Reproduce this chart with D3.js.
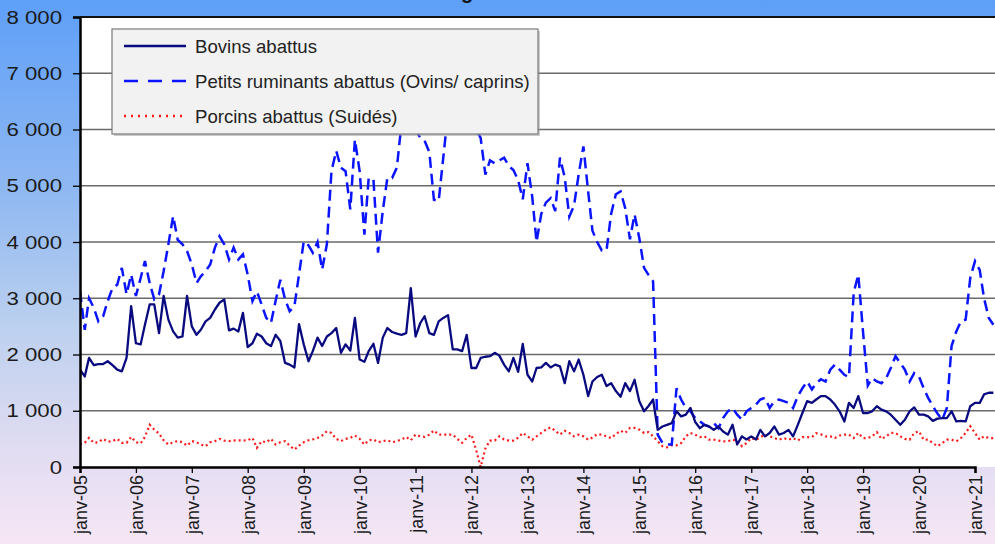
<!DOCTYPE html>
<html><head><meta charset="utf-8">
<script src="https://cdn.jsdelivr.net/npm/d3@7"></script>
<style>body{margin:0;background:#fff}svg{display:block}</style>
</head><body>
<svg id="c" width="995" height="544"></svg>
<script>
// ---- DATA (monthly, janv-05 .. mai-21) ----
const startYear = 2005, startMonth = 0;
const bovins = [
1730,1610,1940,1810,1830,1830,1880,1810,1730,1700,1940,2860,2200,2180,2530,2890,
2890,2380,3040,2620,2410,2300,2320,3040,2500,2350,2440,2590,2650,2800,2920,2980,
2430,2460,2410,2740,2130,2200,2370,2320,2200,2150,2350,2240,1850,1820,1770,2540,
2180,1880,2060,2300,2150,2320,2380,2470,2030,2180,2070,2650,1910,1870,2060,2190,
1850,2300,2470,2400,2370,2350,2380,3180,2320,2560,2680,2380,2350,2590,2650,2700,
2090,2090,2060,2350,1760,1760,1940,1960,1970,2030,1980,1820,1700,1940,1690,2190,
1640,1520,1760,1770,1850,1770,1820,1790,1490,1880,1700,1910,1640,1260,1520,1600,
1640,1440,1490,1350,1250,1490,1350,1550,1170,990,1080,1200,660,720,750,780,
990,900,930,1050,800,690,750,720,660,720,630,575,750,400,545,490,
545,490,660,545,605,720,575,605,660,545,750,960,1170,1140,1200,1260,
1260,1200,1110,990,810,1140,1050,1260,960,960,990,1080,1020,990,930,840,
750,840,990,1060,930,930,900,820,860,870,870,990,810,820,810,1080,
1140,1140,1290,1320,1320];
const petitsRuminants = [
3125,2440,3000,2830,2590,2680,2950,3180,3240,3540,3070,3420,3040,3360,3660,3270,
2980,3070,3480,3960,4460,4040,3960,3840,3600,3270,3390,3480,3600,3900,4100,3960,
3690,3900,3690,3780,3420,2950,3120,2890,2650,2560,2950,3330,2980,2770,2860,3420,
4010,3940,3810,4000,3510,3960,5260,5620,5320,5260,4580,5820,5260,4130,5140,5110,
3810,4550,5140,5140,5320,6100,6300,6200,6000,5850,5800,5600,4750,4730,5500,6300,
6500,6600,6400,6300,6500,6000,5850,5200,5450,5400,5450,5500,5350,5280,5100,4760,
5400,4800,4000,4500,4700,4780,4550,5500,5150,4450,4650,5200,5700,4900,4200,4000,
3850,3850,4500,4850,4900,4600,4050,4490,4070,3540,3420,3300,575,430,400,400,
1400,1200,1050,990,870,810,750,720,780,690,870,990,1050,930,840,990,
1050,1110,1200,1230,1050,1170,1200,1170,1140,1050,1260,1400,1520,1380,1490,1560,
1520,1730,1820,1730,1640,1600,3100,3420,2400,1450,1580,1520,1490,1580,1760,1970,
1850,1730,1520,1670,1610,1400,1230,1080,950,840,1050,2150,2410,2590,2620,3360,
3660,3500,3000,2650,2530];
const porcins = [
400,430,517,430,440,500,450,460,500,430,430,535,440,420,535,750,
665,595,475,400,440,460,440,380,460,440,400,370,440,460,500,470,
460,470,475,470,475,517,340,460,440,500,400,440,460,380,310,380,
440,475,490,517,560,635,605,500,460,500,517,560,500,400,475,490,
440,460,475,440,460,490,535,475,575,545,535,575,650,575,575,575,
575,500,430,515,575,300,0,330,470,470,545,490,470,470,520,605,
545,485,545,605,665,705,645,575,645,605,545,575,545,485,525,585,
575,545,515,585,645,605,695,695,665,605,620,545,457,370,350,385,
385,425,545,605,575,530,545,485,485,470,457,457,485,470,370,425,
515,485,530,575,545,515,485,515,485,515,470,530,530,530,600,580,
545,545,515,560,575,575,515,605,515,515,545,620,500,545,605,605,
545,500,485,605,635,485,485,425,370,425,485,485,457,515,605,725,
605,485,545,515,515];
const seriesNames = ["Bovins abattus","Petits ruminants abattus (Ovins/ caprins)","Porcins abattus (Suidés)"];
const yTicks = [0,1000,2000,3000,4000,5000,6000,7000,8000];
const xTickLabels = ["janv-05","janv-06","janv-07","janv-08","janv-09","janv-10","janv-11","janv-12","janv-13","janv-14","janv-15","janv-16","janv-17","janv-18","janv-19","janv-20","janv-21"];
const titleText = "Évolution mensuelle des abattages contrôlés";

// ---- LAYOUT ----
const W = 995, H = 544;
const P = {left: 80, right: 995, top: 17, bottom: 467};
const svg = d3.select("#c");
const FONT = "'Liberation Sans', Arial, sans-serif";

const defs = svg.append("defs");
const grad = defs.append("linearGradient").attr("id","bg").attr("x1",0).attr("y1",0).attr("x2",0).attr("y2",1);
[[0,"#5e9ff8"],[0.35,"#8fb8f2"],[0.6,"#bcd0ef"],[0.82,"#e0dcf2"],[1,"#f6e6f5"]].forEach(([o,c])=>
  grad.append("stop").attr("offset",o).attr("stop-color",c));
defs.append("clipPath").attr("id","clip").append("rect")
  .attr("x",P.left).attr("y",P.top).attr("width",P.right-P.left).attr("height",P.bottom-P.top);

svg.append("rect").attr("width",W).attr("height",H).attr("fill","url(#bg)");

// title (cut off at top in reference)
svg.append("text").attr("x",591).attr("y",-1).attr("text-anchor","end")
  .attr("font-family",FONT).attr("font-size",20).attr("font-weight","bold").attr("fill","#111")
  .text(titleText);

// plot area
svg.append("rect").attr("x",P.left).attr("y",P.top).attr("width",P.right-P.left).attr("height",P.bottom-P.top).attr("fill","#fff");

const dates = bovins.map((_,i)=>new Date(startYear, startMonth+i, 1));
const x = d3.scaleTime().domain([new Date(2005,0,1), new Date(2021,0,1)]).range([80, 975]);
const y = d3.scaleLinear().domain([0,8000]).range([P.bottom, P.top]);

// gridlines
svg.append("g").selectAll("line").data(yTicks.filter(d=>d>0)).join("line")
  .attr("x1",P.left).attr("x2",P.right).attr("y1",d=>y(d)).attr("y2",d=>y(d))
  .attr("stroke","#6a6a6a").attr("stroke-width",1.3);

// lines
const line = d3.line().x((d,i)=>x(dates[i])).y(d=>y(d));
const g = svg.append("g").attr("clip-path","url(#clip)");
g.append("path").datum(porcins).attr("d",line).attr("fill","none")
  .attr("stroke","#ff1a1a").attr("stroke-width",2.2).attr("stroke-dasharray","2,3");
g.append("path").datum(petitsRuminants).attr("d",line).attr("fill","none")
  .attr("stroke","#0a14ff").attr("stroke-width",2.5).attr("stroke-dasharray","11,6");
g.append("path").datum(bovins).attr("d",line).attr("fill","none")
  .attr("stroke","#0a0a80").attr("stroke-width",2.3).attr("stroke-linejoin","round");

// axes
const fmt = d => d3.format(",")(d).replace(/,/g,"\u00a0");
const yAxis = svg.append("g").attr("transform",`translate(${P.left},0)`)
  .call(d3.axisLeft(y).tickValues(yTicks).tickSize(7).tickPadding(0).tickFormat(""));
yAxis.select(".domain").attr("stroke","#000").attr("stroke-width",2.5);
yAxis.selectAll(".tick line").attr("stroke","#000").attr("stroke-width",1.3);
svg.append("g").selectAll("text").data(yTicks).join("text")
  .attr("transform",d=>`translate(62,${y(d)}) scale(1.2,1)`)
  .attr("text-anchor","end").attr("dy","0.36em")
  .attr("font-family",FONT).attr("font-size",18.5).attr("fill","#1a1a1a")
  .text(fmt);

const xTickDates = xTickLabels.map((_,i)=>new Date(2005+i,0,1));
const xAxis = svg.append("g").attr("transform",`translate(0,${P.bottom})`)
  .call(d3.axisBottom(x).tickValues(xTickDates).tickSize(6).tickFormat((d,i)=>xTickLabels[i]));
xAxis.select(".domain").attr("stroke","#000").attr("stroke-width",2.5);
xAxis.selectAll(".tick line").attr("stroke","#000").attr("stroke-width",1.3);
xAxis.selectAll(".tick text")
  .attr("transform","rotate(-90)").attr("text-anchor","end")
  .attr("x",-8).attr("y",0).attr("dy","0.36em")
  .attr("font-family",FONT).attr("font-size",18).attr("fill","#1a1a1a");

// top border
svg.append("line").attr("x1",P.left).attr("x2",P.right).attr("y1",P.top).attr("y2",P.top)
  .attr("stroke","#111").attr("stroke-width",2);

// legend
const L = {x:112, y:29, w:426, h:105};
const lg = svg.append("g");
lg.append("rect").attr("x",L.x+2).attr("y",L.y+2).attr("width",L.w).attr("height",L.h).attr("fill","#9a9a9a").attr("opacity",0.5);
lg.append("rect").attr("x",L.x).attr("y",L.y).attr("width",L.w).attr("height",L.h)
  .attr("fill","#f2f2f2").attr("stroke","#7a7a7a").attr("stroke-width",1.2);
const legStyles = [
  {c:"#0a0a80", w:2.3, dash:null},
  {c:"#0a14ff", w:2.5, dash:"14,10"},
  {c:"#ff1a1a", w:2.5, dash:"2,5"}
];
seriesNames.forEach((n,i)=>{
  const yy = 46 + i*35;
  lg.append("line").attr("x1",124).attr("x2",186).attr("y1",yy).attr("y2",yy)
    .attr("stroke",legStyles[i].c).attr("stroke-width",legStyles[i].w)
    .attr("stroke-dasharray",legStyles[i].dash);
  lg.append("text").attr("x",195).attr("y",yy).attr("dy","0.36em")
    .attr("font-family",FONT).attr("font-size",18.6).attr("fill","#222").text(n);
});
</script>
</body></html>
